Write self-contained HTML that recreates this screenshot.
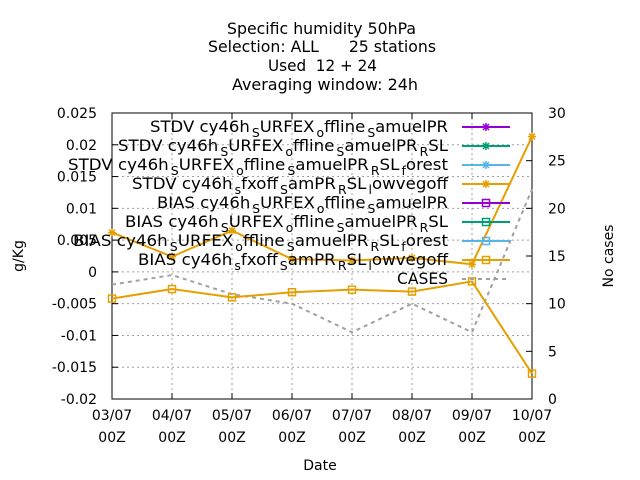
<!DOCTYPE html>
<html><head><meta charset="utf-8"><style>
html,body{margin:0;padding:0;background:#fff;}
svg{display:block;font-family:"DejaVu Sans","Liberation Sans",sans-serif;}
</style></head><body>
<svg id="chart" width="640" height="480" viewBox="0 0 640 480" xmlns="http://www.w3.org/2000/svg">
<g font-size="16" fill="#000" style="white-space:pre">
<text x="227" y="34" textLength="189" lengthAdjust="spacingAndGlyphs">Specific humidity 50hPa</text>
<text x="208" y="52" textLength="228" lengthAdjust="spacingAndGlyphs" xml:space="preserve">Selection: ALL      25 stations</text>
<text x="268" y="71" textLength="109" lengthAdjust="spacingAndGlyphs" xml:space="preserve">Used  12 + 24</text>
<text x="232" y="90" textLength="186" lengthAdjust="spacingAndGlyphs">Averaging window: 24h</text>
</g>
<g id="grid"></g>
<g id="axes"></g>
<g id="series"></g>
<g id="legend"></g>
<text font-size="14" text-anchor="middle" transform="translate(23,256) rotate(-90)">g/Kg</text>
<text font-size="14" text-anchor="middle" transform="translate(613,256) rotate(-90)">No cases</text>
<text font-size="14" text-anchor="middle" x="320" y="470">Date</text>
</svg>
<script>
const categories = ["03/07","04/07","05/07","06/07","07/07","08/07","09/07","10/07"];
const stdvValues = [0.0062,0.0024,0.0065,0.0020,0.0018,0.0022,0.0012,0.0213];
const biasValues = [-0.0042,-0.0027,-0.0040,-0.0032,-0.0028,-0.0031,-0.0015,-0.0160];
const casesValues = [12,13,11,10,7,10,7,22];
const yTicks = [-0.02,-0.015,-0.01,-0.005,0,0.005,0.01,0.015,0.02,0.025];
const yTickLabels = ["-0.02","-0.015","-0.01","-0.005","0","0.005","0.01","0.015","0.02","0.025"];
const y2Ticks = [0,5,10,15,20,25,30];

const NS="http://www.w3.org/2000/svg";
const L=112,R=532,T=113,B=399;
const xs=i=>L+(R-L)*i/(categories.length-1);
const ys=v=>B-(v+0.02)/0.045*(B-T);
const y2s=v=>B-v/30*(B-T);
function mk(tag,attrs,parent){const e=document.createElementNS(NS,tag);for(const k in attrs)e.setAttribute(k,attrs[k]);parent.appendChild(e);return e;}
const grid=document.getElementById('grid'),axes=document.getElementById('axes'),series=document.getElementById('series'),legend=document.getElementById('legend');

yTicks.forEach((v,i)=>{const y=ys(v);
 if(i>0&&i<yTicks.length-1){const g=mk('line',{x1:L,x2:R,y1:y,y2:y,stroke:'#a0a0a0','stroke-dasharray':'2,3','stroke-width':1},grid);
 
 }
 mk('line',{x1:L,x2:L+6,y1:y,y2:y,stroke:'#000'},axes);
 const t=mk('text',{x:L-15,y:y+5,'font-size':14,'text-anchor':'end'},axes);t.textContent=yTickLabels[i];
 
 
});
categories.forEach((c,i)=>{const x=xs(i);
 if(i>0&&i<categories.length-1){const g=mk('line',{x1:x,x2:x,y1:T,y2:B,stroke:'#a0a0a0','stroke-dasharray':'2,3'},grid);
 
 }
 mk('line',{x1:x,x2:x,y1:B,y2:B-6,stroke:'#000'},axes);
 mk('line',{x1:x,x2:x,y1:T,y2:T+6,stroke:'#000'},axes);
 const t=mk('text',{x:x,y:420,'font-size':14,'text-anchor':'middle'},axes);t.textContent=c;
 
 
 const t2=mk('text',{x:x,y:442,'font-size':14,'text-anchor':'middle'},axes);t2.textContent='00Z';
 
 
});
y2Ticks.forEach(v=>{const y=y2s(v);
 mk('line',{x1:R,x2:R-6,y1:y,y2:y,stroke:'#000'},axes);
 const t=mk('text',{x:548,y:y+5,'font-size':14},axes);t.textContent=String(v);
 
 
});
const frame=mk('rect',{x:L,y:T,width:R-L,height:B-T,fill:'none',stroke:'#000'},axes);



const OR='#e69f00';
function star(g,x,y,c){mk('path',{d:`M${x-4} ${y}h8M${x} ${y-4}v8M${x-3} ${y-3}l6 6M${x-3} ${y+3}l6 -6`,stroke:c,'stroke-width':1.5,fill:'none'},g);}
function sq(g,x,y,c){mk('rect',{x:x-3.5,y:y-3.5,width:7,height:7,stroke:c,'stroke-width':1.5,fill:'none'},g);}

const cp=mk('polyline',{points:casesValues.map((v,i)=>xs(i)+','+y2s(v)).join(' '),fill:'none',stroke:'#a0a0a0','stroke-width':2,'stroke-dasharray':'4,4'},series);


const sg=mk('g',{},series);


mk('polyline',{points:stdvValues.map((v,i)=>xs(i)+','+ys(v)).join(' '),fill:'none',stroke:OR,'stroke-width':2},sg);
stdvValues.forEach((v,i)=>star(sg,xs(i),ys(v),OR));
const bg=mk('g',{},series);


mk('polyline',{points:biasValues.map((v,i)=>xs(i)+','+ys(v)).join(' '),fill:'none',stroke:OR,'stroke-width':2},bg);
biasValues.forEach((v,i)=>sq(bg,xs(i),ys(v),OR));

const legendRows=[
 ['STDV cy46h',[['S','URFEX'],['o','ffline'],['S','amuelPR']],'#9400d3','star',298],
 ['STDV cy46h',[['S','URFEX'],['o','ffline'],['S','amuelPR'],['R','SL']],'#009e73','star',330],
 ['STDV cy46h',[['S','URFEX'],['o','ffline'],['S','amuelPR'],['R','SL'],['f','orest']],'#56b4e9','star',380],
 ['STDV cy46h',[['s','fxoff'],['S','amPR'],['R','SL'],['l','owvegoff']],OR,'star',316],
 ['BIAS cy46h',[['S','URFEX'],['o','ffline'],['S','amuelPR']],'#9400d3','sq',291],
 ['BIAS cy46h',[['S','URFEX'],['o','ffline'],['S','amuelPR'],['R','SL']],'#009e73','sq',323],
 ['BIAS cy46h',[['S','URFEX'],['o','ffline'],['S','amuelPR'],['R','SL'],['f','orest']],'#56b4e9','sq',375],
 ['BIAS cy46h',[['s','fxoff'],['S','amPR'],['R','SL'],['l','owvegoff']],OR,'sq',310],
];
legendRows.forEach((r,i)=>{const y=127+i*19;
 const g=mk('g',{},legend);
 
 
 const t=mk('text',{x:448-r[4],y:y+5,'font-size':16,textLength:r[4],lengthAdjust:'spacingAndGlyphs'},g);
 let s=document.createElementNS(NS,'tspan');s.textContent=r[0];t.appendChild(s);
 r[1].forEach(p=>{const a=document.createElementNS(NS,'tspan');a.setAttribute('font-size','12');a.setAttribute('dy','5');a.setAttribute('dx','2');a.textContent=p[0];t.appendChild(a);
 const b=document.createElementNS(NS,'tspan');b.setAttribute('dy','-5');b.textContent=p[1];t.appendChild(b);});
 mk('line',{x1:462,x2:510,y1:y,y2:y,stroke:r[2],'stroke-width':2},g);
 if(r[3]==='star')star(g,486,y,r[2]);else sq(g,486,y,r[2]);
});
const cg=mk('g',{},legend);


const ct=mk('text',{x:397,y:127+8*19+5,'font-size':16,textLength:51,lengthAdjust:'spacingAndGlyphs'},cg);ct.textContent='CASES';
mk('line',{x1:462,x2:510,y1:127+8*19,y2:127+8*19,stroke:'#a0a0a0','stroke-width':2,'stroke-dasharray':'4,4'},cg);
</script>
</body></html>
